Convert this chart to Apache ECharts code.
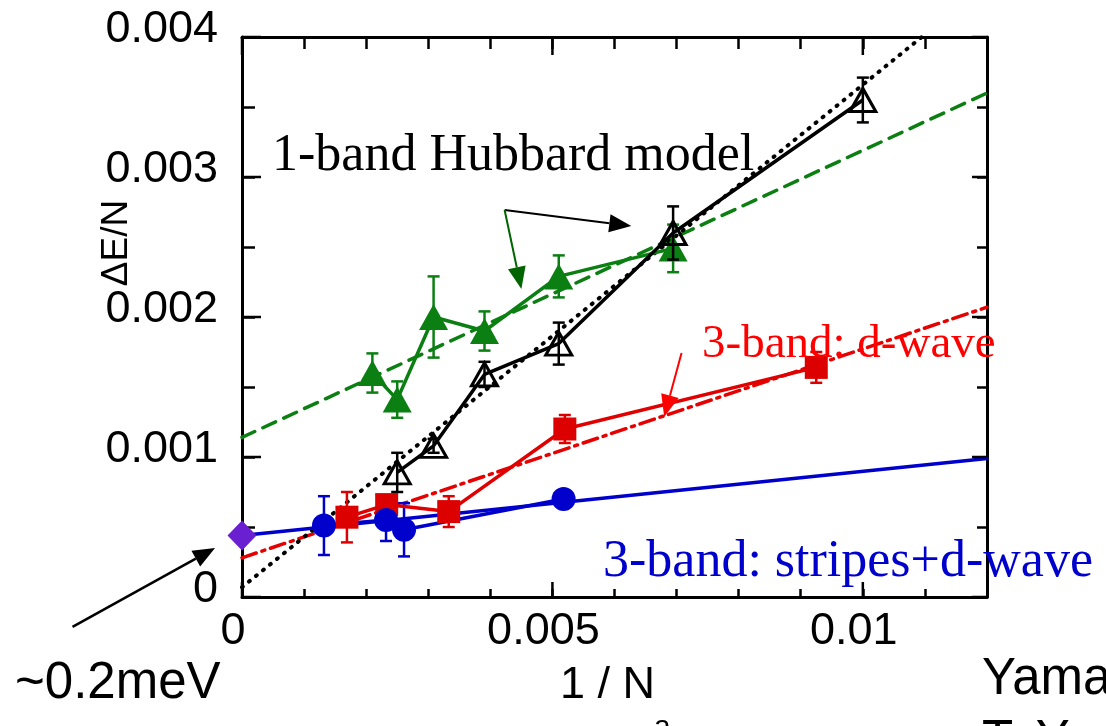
<!DOCTYPE html>
<html>
<head>
<meta charset="utf-8">
<script src="https://cdn.jsdelivr.net/npm/echarts@6/dist/echarts.min.js"></script>
<style>html,body{margin:0;padding:0;background:#fff;}#c{width:1106px;height:726px;}</style>
</head>
<body>
<div id="c"></div>
<script>
// ---- data ----
const xTickLabels = ['0', '0.005', '0.01'];
const xTickValues = [0, 0.005, 0.01];
const yTickLabels = ['0', '0.001', '0.002', '0.003', '0.004'];
const yTickValues = [0, 0.001, 0.002, 0.003, 0.004];

// 1-band Hubbard model (black open triangles)
const hubX = [0.0025, 0.003086, 0.003906, 0.005102, 0.006944, 0.01];
const hubY = [0.00089, 0.00108, 0.00159, 0.00181, 0.0026, 0.00355];
const hubErr = [0.00014, 0.00005, 0.00009, 0.00015, 0.00019, 0.00016];
const hubFitX = [0, 0.01095];
const hubFitY = [0.00007, 0.004];

// 1-band Hubbard model, second set (green filled triangles)
const grnX = [0.0021, 0.0025, 0.003086, 0.003906, 0.005102, 0.006944];
const grnY = [0.0016, 0.00141, 0.002, 0.0019, 0.00229, 0.00249];
const grnErr = [0.00014, 0.00013, 0.00029, 0.00014, 0.00015, 0.00017];
const grnFitX = [0, 0.012];
const grnFitY = [0.00114, 0.0036];

// 3-band: d-wave (red squares)
const redX = [0.00169, 0.00233, 0.00333, 0.0052, 0.00925];
const redY = [0.00057, 0.00066, 0.00061, 0.0012, 0.00164];
const redErr = [0.00018, 0.00005, 0.00011, 0.0001, 0.00011];
const redFitX = [0, 0.012];
const redFitY = [0.00028, 0.00207];

// 3-band: stripes+d-wave (blue circles)
const bluX = [0.00132, 0.00232, 0.00261, 0.00518];
const bluY = [0.00051, 0.00055, 0.00048, 0.0007];
const bluErr = [0.00021, 0.00015, 0.00019, 0.00003];
const bluFitX = [0, 0.012];
const bluFitY = [0.00044, 0.00099];

// extrapolated value (purple diamond)
const extX = [0];
const extY = [0.00044];

// annotation arrows [x1, y1, x2(tip), y2(tip)] in data units
const arrowBlack = [0.00423, 0.002764, 0.00627, 0.00265];
const arrowGreen = [0.00423, 0.002764, 0.0045, 0.0022];
const arrowRed = [0.00708, 0.001743, 0.0068, 0.001286];
const arrowMeV = [-0.00273, -0.000214, -0.000434, 0.00035];

// ---- helpers ----
const X_MIN = 0, X_MAX = 0.012, Y_MIN = 0, Y_MAX = 0.004;
const zip = (xs, ys) => xs.map((x, i) => [x, ys[i]]);
const zip3 = (xs, ys, es) => xs.map((x, i) => [x, ys[i], es[i]]);
function lookupLabel(v, vals, labs) {
  for (let i = 0; i < vals.length; i++) if (Math.abs(v - vals[i]) < 1e-9) return labs[i];
  return '';
}
const SANS = '"Liberation Sans", Arial, sans-serif';
const SERIF = '"Liberation Serif", "Times New Roman", serif';

function errSeries(data, color, z) {
  return {
    type: 'custom', xAxisIndex: 0, yAxisIndex: 0, z: z, clip: false,
    data: data,
    renderItem: function (params, api) {
      const x = api.value(0), y = api.value(1), e = api.value(2);
      const t = api.coord([x, y + e]), b = api.coord([x, y - e]);
      const w = 6;
      const st = { stroke: color, lineWidth: 2.5 };
      return { type: 'group', children: [
        { type: 'line', shape: { x1: t[0], y1: t[1], x2: b[0], y2: b[1] }, style: st },
        { type: 'line', shape: { x1: t[0] - w, y1: t[1], x2: t[0] + w, y2: t[1] }, style: st },
        { type: 'line', shape: { x1: b[0] - w, y1: b[1], x2: b[0] + w, y2: b[1] }, style: st }
      ]};
    }
  };
}
function arrowSeries(arr, color, width) {
  return {
    type: 'custom', xAxisIndex: 0, yAxisIndex: 0, z: 20, clip: false,
    data: [arr],
    renderItem: function (params, api) {
      const p1 = api.coord([api.value(0), api.value(1)]);
      const p2 = api.coord([api.value(2), api.value(3)]);
      const dx = p2[0] - p1[0], dy = p2[1] - p1[1];
      const L = Math.sqrt(dx * dx + dy * dy);
      const ux = dx / L, uy = dy / L;
      const hl = 22, hw = 9;
      const bx = p2[0] - ux * hl, by = p2[1] - uy * hl;
      return { type: 'group', children: [
        { type: 'line', shape: { x1: p1[0], y1: p1[1], x2: bx, y2: by }, style: { stroke: color, lineWidth: width } },
        { type: 'polygon', shape: { points: [[p2[0], p2[1]], [bx - uy * hw, by + ux * hw], [bx + uy * hw, by - ux * hw]] }, style: { fill: color } }
      ]};
    }
  };
}
// longer major tick marks on all four frame sides
function majorTickSeries(vals, isX) {
  return {
    type: 'custom', xAxisIndex: 0, yAxisIndex: 0, z: 10, clip: false, silent: true,
    data: vals.map(v => isX ? [v, Y_MIN] : [X_MIN, v]),
    renderItem: function (params, api) {
      const st = { stroke: '#000', lineWidth: 2.5 };
      if (isX) {
        const v = api.value(0);
        const b = api.coord([v, Y_MIN]), t = api.coord([v, Y_MAX]);
        return { type: 'group', children: [
          { type: 'line', shape: { x1: b[0], y1: b[1], x2: b[0], y2: b[1] - 15 }, style: st },
          { type: 'line', shape: { x1: t[0], y1: t[1], x2: t[0], y2: t[1] + 18 }, style: st }
        ]};
      } else {
        const v = api.value(1);
        const l = api.coord([X_MIN, v]), r = api.coord([X_MAX, v]);
        return { type: 'group', children: [
          { type: 'line', shape: { x1: l[0], y1: l[1], x2: l[0] + 19, y2: l[1] }, style: st },
          { type: 'line', shape: { x1: r[0], y1: r[1], x2: r[0] - 15, y2: r[1] }, style: st }
        ]};
      }
    }
  };
}
function fitSeries(xs, ys, color, type, width, z) {
  return {
    type: 'line', xAxisIndex: 0, yAxisIndex: 0, data: zip(xs, ys), symbol: 'none', z: z, silent: true,
    lineStyle: { color: color, width: width, type: type, cap: 'round' }, animation: false
  };
}
function dataSeries(xs, ys, color, symbol, size, itemStyle, z) {
  return {
    type: 'line', xAxisIndex: 0, yAxisIndex: 0, data: zip(xs, ys), z: z,
    symbol: symbol, symbolSize: size, showSymbol: true,
    lineStyle: { color: color, width: 3.5 }, itemStyle: Object.assign({ opacity: 1 }, itemStyle), animation: false
  };
}

const lineSt = { color: '#000', width: 3 };
const tickSt = { color: '#000', width: 2.5 };

const option = {
  animation: false,
  backgroundColor: '#fff',
  grid: { left: 242, right: 119, top: 37, bottom: 129, containLabel: false },
  xAxis: [
    {
      type: 'value', position: 'bottom', min: X_MIN, max: X_MAX, interval: 0.001,
      splitLine: { show: false },
      axisLine: { show: true, onZero: false, lineStyle: lineSt },
      axisTick: { show: true, inside: true, length: 8, lineStyle: tickSt },
      axisLabel: { show: true, formatter: v => lookupLabel(v, xTickValues, xTickLabels),
        fontSize: 45, fontFamily: SANS, color: '#000', margin: 12, padding: [0, 18, 0, 0] }
    },
    {
      type: 'value', position: 'top', min: X_MIN, max: X_MAX, interval: 0.001,
      splitLine: { show: false },
      axisLine: { show: true, onZero: false, lineStyle: lineSt },
      axisTick: { show: true, inside: true, length: 12, lineStyle: tickSt },
      axisLabel: { show: false }
    }
  ],
  yAxis: [
    {
      type: 'value', position: 'left', min: Y_MIN, max: Y_MAX, interval: 0.0005,
      splitLine: { show: false },
      axisLine: { show: true, onZero: false, lineStyle: lineSt },
      axisTick: { show: true, inside: true, length: 13, lineStyle: tickSt },
      axisLabel: { show: true, formatter: v => lookupLabel(v, yTickValues, yTickLabels),
        fontSize: 45, fontFamily: SANS, color: '#000', margin: 24,
        verticalAlign: 'bottom', lineHeight: 14 }
    },
    {
      type: 'value', position: 'right', min: Y_MIN, max: Y_MAX, interval: 0.0005,
      splitLine: { show: false },
      axisLine: { show: true, onZero: false, lineStyle: lineSt },
      axisTick: { show: true, inside: true, length: 10, lineStyle: tickSt },
      axisLabel: { show: false }
    }
  ],
  series: [
    majorTickSeries(xTickValues, true),
    majorTickSeries(yTickValues, false),
    fitSeries(grnFitX, grnFitY, '#0b7f12', [14, 9], 3.5, 2),
    fitSeries(redFitX, redFitY, '#e60000', [15, 6, 3, 6], 3.5, 2),
    fitSeries(hubFitX, hubFitY, '#000', [1, 8], 4, 2),
    fitSeries(bluFitX, bluFitY, '#0000cc', 'solid', 3.5, 2),
    errSeries(zip3(grnX, grnY, grnErr), '#0b7f12', 4),
    errSeries(zip3(redX, redY, redErr), '#dd0000', 4),
    errSeries(zip3(bluX, bluY, bluErr), '#0000cc', 4),
    dataSeries(grnX, grnY, '#0b7f12', 'triangle', [29, 26], { color: '#0b7f12' }, 5),
    dataSeries(redX, redY, '#e00000', 'rect', 23, { color: '#dd0000' }, 5),
    dataSeries(bluX, bluY, '#0000cc', 'circle', 24, { color: '#0000cc' }, 5),
    dataSeries(hubX, hubY, '#000', 'triangle', [26, 23], { color: 'rgba(255,255,255,0)', borderColor: '#000', borderWidth: 3 }, 6),
    errSeries(zip3(hubX, hubY, hubErr), '#000', 7),
    {
      type: 'scatter', xAxisIndex: 0, yAxisIndex: 0, data: zip(extX, extY), clip: false, z: 8,
      symbol: 'diamond', symbolSize: [29, 30], itemStyle: { color: '#6a1fd1', opacity: 1 }
    },
    arrowSeries(arrowBlack, '#000', 2),
    arrowSeries(arrowGreen, '#006400', 2),
    arrowSeries(arrowRed, '#ff0000', 2),
    arrowSeries(arrowMeV, '#000', 2.5)
  ],
  graphic: [
    { type: 'text', x: 272, y: 156, z: 50, style: { text: '1-band Hubbard model', fontSize: 52, fontFamily: SERIF, fill: '#000', align: 'left', verticalAlign: 'middle' } },
    { type: 'text', x: 702, y: 345, z: 50, style: { text: '3-band: d-wave', fontSize: 47, fontFamily: SERIF, fill: '#ff0000', align: 'left', verticalAlign: 'middle' } },
    { type: 'text', x: 603, y: 562, z: 50, style: { text: '3-band: stripes+d-wave', fontSize: 52, fontFamily: SERIF, fill: '#0000cc', align: 'left', verticalAlign: 'middle' } },
    { type: 'text', x: 117, y: 243, z: 50, rotation: Math.PI / 2, style: { text: 'ΔE/N', fontSize: 37, fontFamily: SANS, fill: '#000', align: 'center', verticalAlign: 'middle' } },
    { type: 'text', x: 15, y: 684, z: 50, style: { text: '~0.2meV', fontSize: 51, fontFamily: SANS, fill: '#000', align: 'left', verticalAlign: 'middle' } },
    { type: 'text', x: 560, y: 686, z: 50, style: { text: '1 / N', fontSize: 45, fontFamily: SANS, fill: '#000', align: 'left', verticalAlign: 'middle' } },
    { type: 'text', x: 654, y: 728, z: 50, style: { text: 'a', fontSize: 30, fontFamily: SANS, fill: '#000', align: 'left', verticalAlign: 'middle' } },
    { type: 'text', x: 982, y: 680, z: 50, style: { text: 'Yama', fontSize: 51, fontFamily: SANS, fill: '#000', align: 'left', verticalAlign: 'middle' } },
    { type: 'text', x: 982, y: 742, z: 50, style: { text: 'T. Y', fontSize: 51, fontFamily: SANS, fill: '#000', align: 'left', verticalAlign: 'middle' } }
  ]
};

const chart = echarts.init(document.getElementById('c'), null, { renderer: 'canvas' });
chart.setOption(option);
</script>
</body>
</html>
